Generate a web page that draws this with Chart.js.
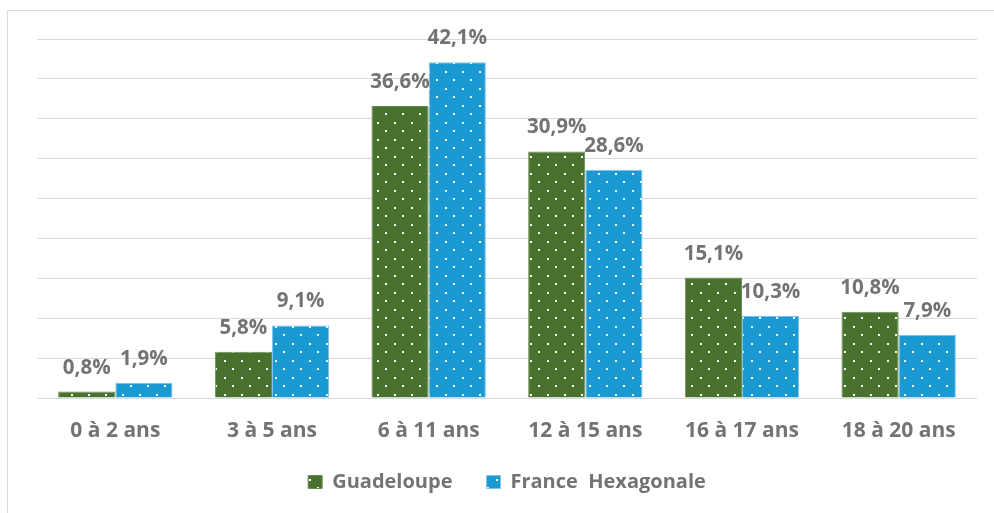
<!DOCTYPE html>
<html>
<head>
<meta charset="utf-8">
<script src="https://cdn.jsdelivr.net/npm/chart.js@4/dist/chart.umd.min.js"></script>
<style>
  html, body { margin: 0; padding: 0; background: #fff; }
  #wrap { width: 994px; height: 513px; position: relative; }
</style>
</head>
<body>
<div id="wrap"><canvas id="c"></canvas></div>
<script>
// Répartition par âge (%)
const categories = ['0 à 2 ans', '3 à 5 ans', '6 à 11 ans', '12 à 15 ans', '16 à 17 ans', '18 à 20 ans'];
const guadeloupe = [0.8, 5.8, 36.6, 30.9, 15.1, 10.8];
const franceHex = [1.9, 9.1, 42.1, 28.6, 10.3, 7.9];
const seriesNames = ['Guadeloupe', 'France  Hexagonale'];

const THEME = {
  green: '#48722E',
  greenEdge: '#6b8b55',
  blue: '#1A99D2',
  blueEdge: '#7cc4e8',
  grid: '#d9d9d9',
  text: '#737373',
  font: "'Open Sans', sans-serif"
};

// white dotted fill like the office chart pattern
function dotPattern(color) {
  const tile = document.createElement('canvas');
  tile.width = 17;
  tile.height = 17;
  const t = tile.getContext('2d');
  t.fillStyle = color;
  t.fillRect(0, 0, 17, 17);
  t.fillStyle = '#ffffff';
  t.fillRect(3, 3, 2, 2);
  t.fillRect(11, 11, 2, 2);
  return t.createPattern(tile, 'repeat');
}

const fmt = v => v.toFixed(1).replace('.', ',') + '%';

const valueLabels = {
  id: 'valueLabels',
  afterDatasetsDraw(chart) {
    const ctx = chart.ctx;
    ctx.save();
    ctx.font = "700 20.5px " + THEME.font;
    ctx.fillStyle = THEME.text;
    ctx.textAlign = 'center';
    ctx.textBaseline = 'alphabetic';
    chart.data.datasets.forEach((ds, i) => {
      chart.getDatasetMeta(i).data.forEach((bar, j) => {
        ctx.fillText(fmt(ds.data[j]), bar.x, bar.y - 18);
      });
    });
    ctx.restore();
  }
};

const frame = {
  id: 'frame',
  beforeDraw(chart) {
    const ctx = chart.ctx;
    ctx.save();
    ctx.strokeStyle = THEME.grid;
    ctx.lineWidth = 1;
    ctx.beginPath();
    ctx.moveTo(7.5, chart.height);
    ctx.lineTo(7.5, 10.5);
    ctx.lineTo(chart.width, 10.5);
    ctx.stroke();
    ctx.restore();
  }
};

const ctx = document.getElementById('c').getContext('2d');
new Chart(ctx, {
  type: 'bar',
  data: {
    labels: categories,
    datasets: [
      {
        label: seriesNames[0],
        data: guadeloupe,
        backgroundColor: dotPattern(THEME.green),
        borderColor: THEME.greenEdge,
        borderWidth: 1,
        borderSkipped: 'bottom'
      },
      {
        label: seriesNames[1],
        data: franceHex,
        backgroundColor: dotPattern(THEME.blue),
        borderColor: THEME.blueEdge,
        borderWidth: 1,
        borderSkipped: 'bottom'
      }
    ]
  },
  options: {
    responsive: true,
    maintainAspectRatio: false,
    animation: false,
    categoryPercentage: 0.73,
    barPercentage: 1,
    layout: { padding: { left: 37, right: 17, top: 39, bottom: 11 } },
    plugins: {
      tooltip: { enabled: false },
      legend: {
        position: 'bottom',
        labels: {
          color: THEME.text,
          font: { family: THEME.font, size: 20, weight: '700' },
          boxWidth: 14,
          boxHeight: 13,
          padding: 34
        }
      }
    },
    scales: {
      x: {
        grid: { display: false, drawTicks: false },
        border: { display: false },
        ticks: {
          color: THEME.text,
          font: { family: THEME.font, size: 21, weight: '700' },
          padding: 20
        },
        afterFit(scale) { scale.height = 40; }
      },
      y: {
        min: 0,
        max: 45,
        ticks: { stepSize: 5, display: false },
        grid: { color: THEME.grid, lineWidth: 1, drawTicks: false },
        border: { display: false }
      }
    }
  },
  plugins: [frame, valueLabels]
});
</script>
</body>
</html>
